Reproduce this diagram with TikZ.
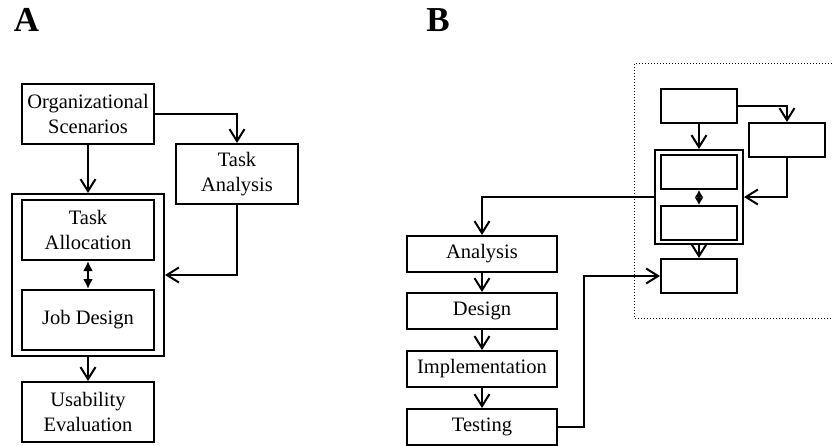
\documentclass[tikz,border=0pt]{standalone}
\usepackage{fontspec}
\setmainfont{Liberation Serif}
\usetikzlibrary{arrows.meta}
\begin{document}
\begin{tikzpicture}[x=1pt,y=-1pt,
  line width=2pt,
  box/.style={draw,line width=2pt,inner sep=0pt,align=center,font=\fontsize{20.5}{24.5}\selectfont},
  frame/.style={draw,line width=2pt,inner sep=0pt},
  panel/.style={inner sep=0pt,anchor=base,font=\fontsize{35}{40}\selectfont\bfseries},
  arr/.style={line width=2pt,-{Straight Barb[length=12pt,width=15pt,line width=2pt]}},
  dbl/.style={line width=2pt,{Latex[length=10pt,width=10pt]}-{Latex[length=10pt,width=10pt]}},
  dbls/.style={line width=1.5pt,{Latex[length=7.5pt,width=9pt]}-{Latex[length=7.5pt,width=9pt]}},
]
\useasboundingbox (0,0) rectangle (832,446);
% Panel labels
\node[panel] (lA) at (26.5,32) {A};
\node[panel] (lB) at (438,32) {B};

% ---------- Panel A ----------
\node[box,minimum width=132pt,minimum height=60pt] (org) at (88,114) {Organizational\\Scenarios};
\node[box,minimum width=122pt,minimum height=60pt] (ta) at (237,174) {Task\\Analysis};
\node[frame,minimum width=152pt,minimum height=162pt] (outer) at (88,275) {};
\node[box,minimum width=132pt,minimum height=60pt] (alloc) at (88,230) {Task\\Allocation};
\node[box,minimum width=132pt,minimum height=60pt] (job) at (88,320) {Job Design};
\node[box,minimum width=132pt,minimum height=60pt] (usab) at (88,412) {Usability\\Evaluation};

\draw[arr] (org.south) -- (outer.north);
\draw[arr] (org.east) -| (ta.north);
\draw[arr] (ta.south) |- (outer.east);
\draw[dbl] (alloc.south) -- (job.north);
\draw[arr] (outer.south) -- (usab.north);

% ---------- Panel B ----------
\draw[line width=1pt,dotted] (832,63.5) -- (634.5,63.5) -- (634.5,318.5) -- (832,318.5);
\node[box,minimum width=76pt,minimum height=34pt] (borg) at (699,106) {};
\node[box,minimum width=76pt,minimum height=34pt] (bta) at (787,140) {};
\node[frame,minimum width=88pt,minimum height=94pt] (bouter) at (699,197) {};
\node[box,minimum width=76pt,minimum height=34pt] (b1) at (699,172) {};
\node[box,minimum width=76pt,minimum height=34pt] (b2) at (699,223) {};
\node[box,minimum width=76pt,minimum height=34pt] (b3) at (699,276) {};

\node[box,minimum width=150pt,minimum height=36pt] (an) at (482,254) {Analysis};
\node[box,minimum width=150pt,minimum height=36pt] (de) at (482,311) {Design};
\node[box,minimum width=150pt,minimum height=36pt] (im) at (482,369) {Implementation};
\node[box,minimum width=150pt,minimum height=36pt] (te) at (482,427) {Testing};

\draw[arr] (borg.east) -| (bta.north);
\draw[arr] (borg.south) -- (bouter.north);
\draw[arr] (bta.south) |- (bouter.east);
\draw[dbls] (b1.south) -- (b2.north);
\draw[arr] (bouter.south) -- (b3.north);
\draw[arr] (bouter.west) -| (an.north);
\draw[arr] (an.south) -- (de.north);
\draw[arr] (de.south) -- (im.north);
\draw[arr] (im.south) -- (te.north);
\draw[arr] (te.east) -- ++(26,0) |- (b3.west);
\end{tikzpicture}
\end{document}
